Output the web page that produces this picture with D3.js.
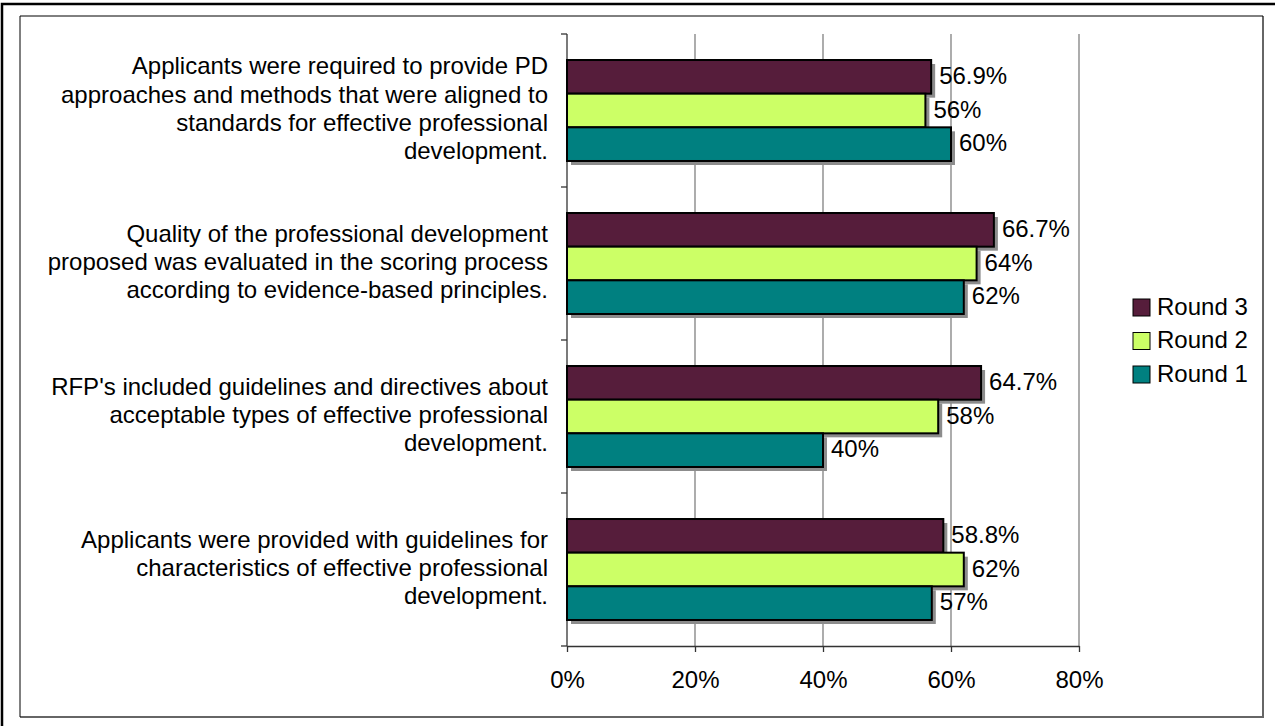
<!DOCTYPE html>
<html>
<head>
<meta charset="utf-8">
<script src="https://cdn.jsdelivr.net/npm/d3@7"></script>
<style>
  html, body { margin: 0; padding: 0; background: #fff; }
  svg { display: block; font-family: "Liberation Sans", Arial, sans-serif; }
</style>
</head>
<body>
<svg id="chart" width="1275" height="726"></svg>
<script>
// Survey items, top to bottom, each as wrapped label lines
const categories = [
  ["Applicants were required to provide PD", "approaches and methods that were aligned to", "standards for effective professional", "development."],
  ["Quality of the professional development", "proposed was evaluated in the scoring process", "according to evidence-based principles."],
  ["RFP's included guidelines and directives about", "acceptable types of effective professional", "development."],
  ["Applicants were provided with guidelines for", "characteristics of effective professional", "development."]
];
const seriesNames = ["Round 3", "Round 2", "Round 1"];
const round3 = [56.9, 66.7, 64.7, 58.8];
const round2 = [56, 64, 58, 62];
const round1 = [60, 62, 40, 57];
const valueLabels3 = ["56.9%", "66.7%", "64.7%", "58.8%"];
const valueLabels2 = ["56%", "64%", "58%", "62%"];
const valueLabels1 = ["60%", "62%", "40%", "57%"];
const xTicks = [0, 20, 40, 60, 80];
const colors = ["#561D3B", "#CCFF66", "#008080"];

const series = [round3, round2, round1];
const seriesLabels = [valueLabels3, valueLabels2, valueLabels1];

const svg = d3.select("#chart");
const fontSize = 24;

// Outer and inner frames
svg.append("rect").attr("x", 2).attr("y", 4).attr("width", 1280).attr("height", 740)
  .attr("fill", "none").attr("stroke", "#000").attr("stroke-width", 2.5);
svg.append("path").attr("d", "M1263,16 L1263,717 L20,717")
  .attr("fill", "none").attr("stroke", "#666").attr("stroke-width", 2);
svg.append("path").attr("d", "M20,717 L20,16 L1263,16")
  .attr("fill", "none").attr("stroke", "#000").attr("stroke-width", 1);

const plot = { left: 567, right: 1079, top: 34, bottom: 646 };

const x = d3.scaleLinear().domain([0, 80]).range([plot.left, plot.right]);
const y = d3.scaleBand().domain(d3.range(categories.length))
  .range([plot.top, plot.bottom]).paddingInner(0.34).paddingOuter(0.17);
const ySub = d3.scaleBand().domain(d3.range(series.length)).range([0, y.bandwidth()]);

// Vertical gridlines
svg.append("g").selectAll("line").data(xTicks.slice(1)).join("line")
  .attr("x1", d => x(d)).attr("x2", d => x(d))
  .attr("y1", plot.top).attr("y2", plot.bottom)
  .attr("stroke", "#808080").attr("stroke-width", 1.3);

// X axis
const xAxis = svg.append("g").attr("transform", `translate(0,${plot.bottom})`)
  .call(d3.axisBottom(x).tickValues(xTicks).tickFormat(d => d + "%").tickSize(6).tickSizeOuter(0));
xAxis.select(".domain").attr("stroke", "#333").attr("stroke-width", 1.3);
xAxis.selectAll(".tick line").attr("stroke", "#333").attr("stroke-width", 1.3);
xAxis.selectAll("text").attr("font-size", fontSize).attr("fill", "#000")
  .attr("dy", null).attr("y", 42).style("font-family", "Liberation Sans, Arial, sans-serif");

// Y axis line with category boundary ticks
const yAxis = svg.append("g");
yAxis.append("line").attr("x1", plot.left).attr("x2", plot.left)
  .attr("y1", plot.top).attr("y2", plot.bottom).attr("stroke", "#333").attr("stroke-width", 1.3);
const boundaries = d3.range(categories.length + 1).map(i => plot.top + i * (plot.bottom - plot.top) / categories.length);
yAxis.selectAll("line.tk").data(boundaries).join("line").attr("class", "tk")
  .attr("x1", plot.left - 6).attr("x2", plot.left)
  .attr("y1", d => d).attr("y2", d => d).attr("stroke", "#333").attr("stroke-width", 1.3);

// Bars: shadow, then filled bar
const groups = svg.append("g").selectAll("g").data(categories).join("g")
  .attr("transform", (d, i) => `translate(0,${y(i)})`);

groups.each(function (cat, ci) {
  const g = d3.select(this);
  series.forEach((vals, si) => {
    const v = vals[ci];
    const y0 = ySub(si);
    const h = ySub.bandwidth();
    g.append("rect").attr("x", x(0) + 4).attr("y", y0 + 4)
      .attr("width", x(v) - x(0)).attr("height", h).attr("fill", "#8c8c8c");
  });
  series.forEach((vals, si) => {
    const v = vals[ci];
    const y0 = ySub(si);
    const h = ySub.bandwidth();
    g.append("rect").attr("x", x(0)).attr("y", y0)
      .attr("width", x(v) - x(0)).attr("height", h)
      .attr("fill", colors[si]).attr("stroke", "#000").attr("stroke-width", 2);
    g.append("text").attr("x", x(v) + 8).attr("y", y0 + h / 2 + 1)
      .attr("dominant-baseline", "middle").attr("font-size", fontSize).attr("fill", "#000")
      .text(seriesLabels[si][ci]);
  });
});

// Category labels, right-aligned and centred on each band
const lineH = 28.3;
svg.append("g").selectAll("text").data(categories).join("text")
  .attr("text-anchor", "end").attr("font-size", fontSize).attr("fill", "#000")
  .each(function (lines, i) {
    const cy = y(i) + y.bandwidth() / 2;
    const startY = cy - (lines.length - 1) * lineH / 2;
    d3.select(this).selectAll("tspan").data(lines).join("tspan")
      .attr("x", 548).attr("y", (d, j) => startY + j * lineH)
      .attr("dominant-baseline", "middle").text(d => d);
  });

// Legend
const legend = svg.append("g").attr("transform", "translate(1133,307.5)");
seriesNames.forEach((name, i) => {
  const row = legend.append("g").attr("transform", `translate(0,${i * 33.5})`);
  row.append("rect").attr("x", 0).attr("y", -8.5).attr("width", 17).attr("height", 17)
    .attr("fill", colors[i]).attr("stroke", "#000").attr("stroke-width", 1);
  row.append("text").attr("x", 24).attr("y", 1).attr("dominant-baseline", "middle")
    .attr("font-size", fontSize).attr("fill", "#000").text(name);
});
</script>
</body>
</html>
